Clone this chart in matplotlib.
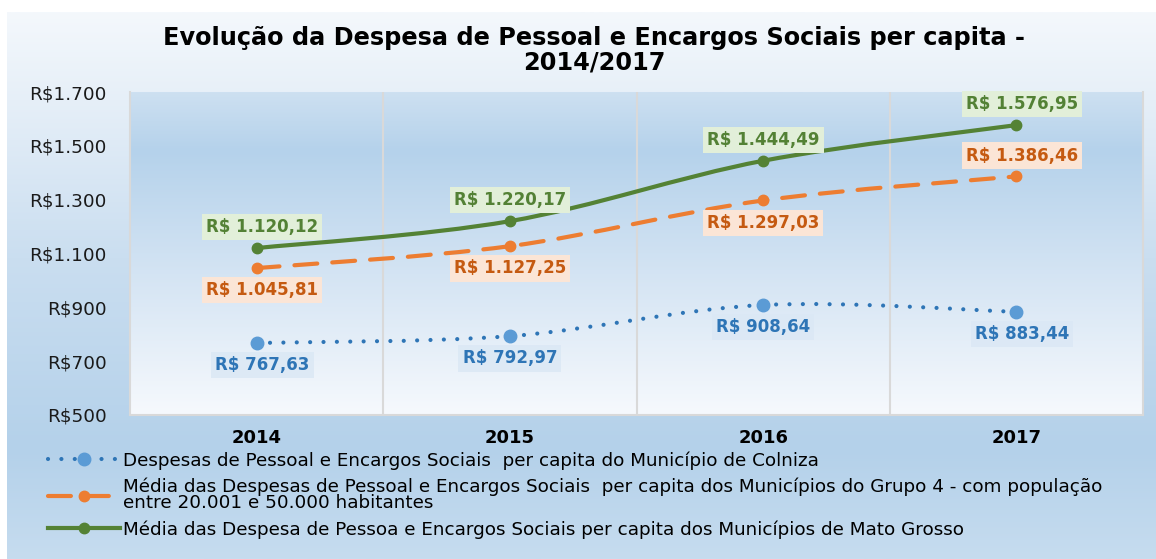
import numpy as np
import matplotlib
matplotlib.use("Agg")
import matplotlib.pyplot as plt
from matplotlib.path import Path
from matplotlib.patches import PathPatch
from matplotlib.lines import Line2D
from matplotlib.colors import LinearSegmentedColormap

plt.rcParams['font.family'] = ['DejaVu Sans']

# data
years = ['2014', '2015', '2016', '2017']
colniza = [767.63, 792.97, 908.64, 883.44]
grupo4 = [1045.81, 1127.25, 1297.03, 1386.46]
mato_grosso = [1120.12, 1220.17, 1444.49, 1576.95]
yticks = [500, 700, 900, 1100, 1300, 1500, 1700]

labels = ['Despesas de Pessoal e Encargos Sociais  per capita do Município de Colniza',
          'Média das Despesas de Pessoal e Encargos Sociais  per capita dos Municípios do Grupo 4 - com população\n'
          'entre 20.001 e 50.000 habitantes',
          'Média das Despesa de Pessoa e Encargos Sociais per capita dos Municípios de Mato Grosso']


def fmt(v):
    s = f"{v:,.2f}".replace(',', 'X').replace('.', ',').replace('X', '.')
    return 'R$ ' + s


def ytick_fmt(v):
    return 'R$' + f"{v:,.0f}".replace(',', '.')


def smooth_path(xs, ys):
    # bezier segments like excel's smoothed line
    pts = np.column_stack([xs, ys]).astype(float)
    n = len(pts)
    verts = [pts[0]]
    codes = [Path.MOVETO]
    for i in range(n - 1):
        p0 = pts[i - 1] if i > 0 else pts[i]
        p1 = pts[i]
        p2 = pts[i + 1]
        p3 = pts[i + 2] if i + 2 < n else pts[i + 1]
        c1 = p1 + (p2 - p0) / 6.0
        c2 = p2 - (p3 - p1) / 6.0
        verts += [c1, c2, p2]
        codes += [Path.CURVE4] * 3
    return Path(verts, codes)


fig = plt.figure(figsize=(11.56, 5.59), dpi=100, facecolor='white')

# chart area background gradient
bg = fig.add_axes([7 / 1156, 0, 1 - 7 / 1156, 1 - 12 / 559], zorder=-10)
bg_cmap = LinearSegmentedColormap.from_list('bg', [
    (0.0, '#f4f8fc'), (0.16, '#e6eff8'), (0.45, '#cadef0'),
    (0.8, '#b4d1ea'), (1.0, '#c6dcef')])
bg.imshow(np.linspace(0, 1, 256).reshape(-1, 1), cmap=bg_cmap, aspect='auto',
          extent=(0, 1, 0, 1))
bg.set_axis_off()

ax = fig.add_axes([130 / 1156, 1 - 415 / 559, (1143 - 130) / 1156, (415 - 92) / 559])
ax.set_facecolor('none')
pa_cmap = LinearSegmentedColormap.from_list('pa', [
    (0.0, '#cde0f1'), (0.18, '#b5d2eb'), (0.5, '#cfe1f2'), (1.0, '#f6f9fd')])
ax.imshow(np.linspace(0, 1, 256).reshape(-1, 1), cmap=pa_cmap, aspect='auto',
          extent=(0, 1, 0, 1), transform=ax.transAxes, zorder=0)

x = np.arange(len(years))
ax.set_xlim(-0.5, len(years) - 0.5)
ax.set_ylim(500, 1700)

for b in x[:-1] + 0.5:
    ax.axvline(b, color='#d9d9d9', lw=1.5, zorder=1)

series = [
    (colniza, '#2e75b6', '#5b9bd5', (0, (0.01, 3.2)), 9, '#dbe8f5', 'below'),
    (grupo4, '#ed7d31', '#ed7d31', (0, (5.5, 3.6)), 7.5, '#fbe5d6', 'below'),
    (mato_grosso, '#548235', '#548235', 'solid', 7.5, '#e2efd9', 'above'),
]
text_colors = ['#2e75b6', '#c55a11', '#538135']

handles = []
for k, (vals, lc, mc, ls, ms, boxc, pos) in enumerate(series):
    patch = PathPatch(smooth_path(x, vals), facecolor='none', edgecolor=lc, lw=3,
                      linestyle=ls, capstyle='round', zorder=3)
    ax.add_patch(patch)
    ax.plot(x, vals, linestyle='none', marker='o', markersize=ms, color=mc, zorder=4)
    handles.append(Line2D([], [], color=lc, lw=3, linestyle=ls, dash_capstyle='round',
                          marker='o', markersize=ms, markerfacecolor=mc,
                          markeredgecolor=mc))
    for i, v in enumerate(vals):
        up = pos == 'above' or (k == 1 and i == 3)
        dx = 4 if i in (0, 3) else 0
        ax.annotate(fmt(v), (x[i], v), xytext=(dx, 15 if up else -16),
                    textcoords='offset points', ha='center', va='center',
                    fontsize=12, fontweight='bold', color=text_colors[k], zorder=5,
                    bbox=dict(boxstyle='square,pad=0.25', fc=boxc, ec='none',
                              alpha=0.85 if k == 0 else 1.0))

ax.set_xticks(x)
ax.set_xticklabels(years, fontsize=13, fontweight='bold')
ax.set_yticks(yticks)
ax.set_yticklabels([ytick_fmt(t) for t in yticks], fontsize=13.3, color='#1a1a1a')
ax.tick_params(length=0, pad=10)
ax.tick_params(axis='y', pad=17)
for s in ['left', 'right', 'bottom']:
    ax.spines[s].set_color('#d9d9d9')
    ax.spines[s].set_linewidth(1.5)
ax.spines['top'].set_visible(False)

fig.text(594 / 1156, 1 - 50 / 559,
         'Evolução da Despesa de Pessoal e Encargos Sociais per capita -\n2014/2017',
         ha='center', va='center', fontsize=17.3, fontweight='bold', linespacing=1.0)

leg = fig.legend(handles, labels, loc='upper left', bbox_to_anchor=(48 / 1156, 1 - 451 / 559),
                 frameon=False, fontsize=13.2, handlelength=3.9, handletextpad=0.2,
                 labelspacing=0.45, borderpad=0, borderaxespad=0)
for t in leg.get_texts():
    t.set_linespacing(0.85)

fig.savefig('out.png', dpi=100, facecolor='white')
